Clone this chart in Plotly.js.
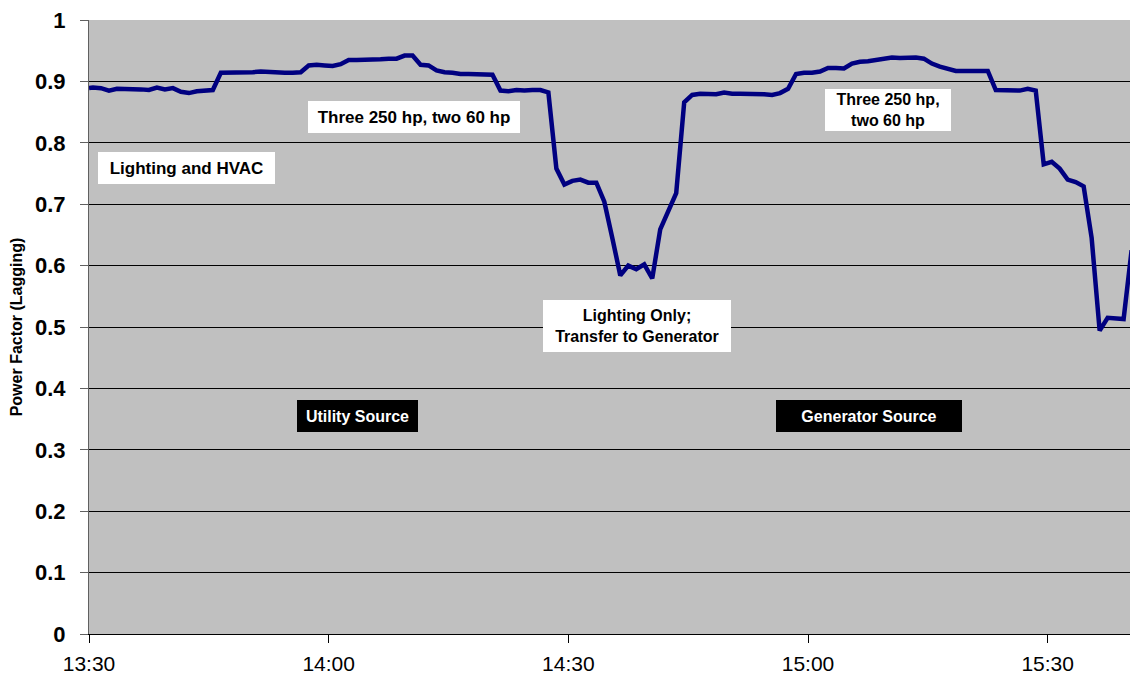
<!DOCTYPE html>
<html>
<head>
<meta charset="utf-8">
<script src="https://cdn.plot.ly/plotly-3.0.1.min.js"></script>
<style>html,body{margin:0;padding:0;background:#fff;}#chart{width:1130px;height:684px;}</style>
</head>
<body>
<div id="chart"></div>
<script>
// Sample times (one reading per minute)
var times = [
"13:30:00","13:30:30","13:31:30","13:32:30","13:33:30","13:34:30","13:35:30","13:36:30","13:37:30","13:38:30","13:39:30",
"13:40:30","13:41:30","13:42:30","13:43:30","13:44:30","13:45:30","13:46:30","13:47:30","13:48:30","13:49:30",
"13:50:30","13:51:30","13:52:30","13:53:30","13:54:30","13:55:30","13:56:30","13:57:30","13:58:30","13:59:30",
"14:00:30","14:01:30","14:02:30","14:03:30","14:04:30","14:05:30","14:06:30","14:07:30","14:08:30","14:09:30",
"14:10:30","14:11:30","14:12:30","14:13:30","14:14:30","14:15:30","14:16:30","14:17:30","14:18:30","14:19:30",
"14:20:30","14:21:30","14:22:30","14:23:30","14:24:30","14:25:30","14:26:30","14:27:30","14:28:30","14:29:30",
"14:30:30","14:31:30","14:32:30","14:33:30","14:34:30","14:35:30","14:36:30","14:37:30","14:38:30","14:39:30",
"14:40:30","14:41:30","14:42:30","14:43:30","14:44:30","14:45:30","14:46:30","14:47:30","14:48:30","14:49:30",
"14:50:30","14:51:30","14:52:30","14:53:30","14:54:30","14:55:30","14:56:30","14:57:30","14:58:30","14:59:30",
"15:00:30","15:01:30","15:02:30","15:03:30","15:04:30","15:05:30","15:06:30","15:07:30","15:08:30","15:09:30",
"15:10:30","15:11:30","15:12:30","15:13:30","15:14:30","15:15:30","15:16:30","15:17:30","15:18:30","15:19:30",
"15:20:30","15:21:30","15:22:30","15:23:30","15:24:30","15:25:30","15:26:30","15:27:30","15:28:30","15:29:30",
"15:30:30","15:31:30","15:32:30","15:33:30","15:34:30","15:35:30","15:36:30","15:37:30","15:38:30","15:39:30",
"15:40:30"
];
// Power factor readings (lagging)
var powerFactor = [
0.889,0.890,0.889,0.885,0.888,0.888,0.887,0.887,0.886,0.890,0.887,
0.889,0.883,0.881,0.884,0.885,0.886,0.914,0.914,0.914,0.914,
0.915,0.916,0.915,0.914,0.914,0.914,0.915,0.926,0.927,0.926,
0.925,0.928,0.935,0.935,0.935,0.935,0.936,0.937,0.937,0.942,
0.942,0.927,0.926,0.918,0.915,0.914,0.912,0.912,0.912,0.912,
0.911,0.885,0.884,0.886,0.885,0.886,0.886,0.882,0.758,0.732,
0.738,0.740,0.735,0.735,0.704,0.645,0.584,0.600,0.594,0.602,
0.579,0.659,0.687,0.718,0.866,0.878,0.880,0.879,0.879,0.882,
0.880,0.880,0.880,0.879,0.879,0.878,0.881,0.888,0.912,0.914,
0.914,0.916,0.922,0.922,0.921,0.929,0.932,0.933,0.935,0.937,
0.939,0.938,0.938,0.939,0.937,0.929,0.924,0.920,0.917,0.917,
0.917,0.917,0.917,0.886,0.886,0.886,0.885,0.888,0.885,0.765,
0.769,0.758,0.740,0.736,0.729,0.645,0.494,0.515,0.514,0.513,
0.625
];
var xTickVals = ["13:30","14:00","14:30","15:00","15:30"];
var yTickVals = [0,0.1,0.2,0.3,0.4,0.5,0.6,0.7,0.8,0.9,1];
var yTickText = ["0","0.1","0.2","0.3","0.4","0.5","0.6","0.7","0.8","0.9","1"];
var xStart = "13:30:00", xEnd = "15:40:18";

var day = "2000-01-01 ";
function d(t){ return day + (t.length === 5 ? t + ":00" : t); }

var annText = ["Lighting and HVAC","Three 250 hp, two 60 hp","Lighting Only;<br>Transfer to Generator","Three 250 hp,<br>two 60 hp","Utility Source","Generator Source"];

var bold = "Liberation Sans, Arial, sans-serif";
function box(text, x, y, w, h, size, dark){
  return {xref:"paper", yref:"paper", x:x, y:y, xanchor:"center", yanchor:"middle",
    text:"<b>"+text+"</b>", showarrow:false, width:w, height:h, borderpad:0, borderwidth:0,
    bgcolor: dark ? "#000000" : "#ffffff",
    font:{family:bold, size:size, color: dark ? "#ffffff" : "#000000"}};
}

var trace = {
  x: times.map(d), y: powerFactor, type:"scatter", mode:"lines",
  line:{color:"#000080", width:4.5}, hoverinfo:"skip"
};

var layout = {
  width:1130, height:684,
  margin:{l:89, r:0, t:20, b:50},
  paper_bgcolor:"#ffffff", plot_bgcolor:"#c0c0c0",
  showlegend:false,
  xaxis:{type:"date", range:[d(xStart), d(xEnd)],
    tickmode:"array", tickvals:xTickVals.map(d), ticktext:xTickVals,
    ticks:"outside", ticklen:8, tickcolor:"#000", tickwidth:1,
    showline:true, linecolor:"#000", linewidth:1,
    showgrid:false, zeroline:false, ticklabelstandoff:3,
    tickfont:{family:"Liberation Sans Narrow, Arial Narrow, Liberation Sans, Arial", size:21, color:"#000"}},
  yaxis:{range:[0,1], tickmode:"array", tickvals:yTickVals, ticktext:yTickText,
    ticks:"outside", ticklen:8, tickcolor:"#606060", tickwidth:1,
    showline:true, linecolor:"#606060", linewidth:1,
    showgrid:true, gridcolor:"#000000", gridwidth:1, zeroline:false,
    ticklabelstandoff:10,
    tickfont:{family:bold, size:22, color:"#000", weight:"bold"},
    title:{text:"<b>Power Factor (Lagging)</b>", standoff:8, font:{family:bold, size:16, color:"#000"}}},
  annotations:[
    box(annText[0], 0.0937, 0.759, 177, 32, 17, false),
    box(annText[1], 0.3122, 0.842, 212, 32, 17, false),
    box(annText[2], 0.5264, 0.5016, 188, 52, 16, false),
    box(annText[3], 0.7675, 0.8534, 126, 42, 16, false),
    box(annText[4], 0.2579, 0.355, 121, 32, 16, true),
    box(annText[5], 0.7493, 0.355, 186, 32, 16, true)
  ]
};
Plotly.newPlot("chart", [trace], layout, {displayModeBar:false, staticPlot:true});
</script>
</body>
</html>
